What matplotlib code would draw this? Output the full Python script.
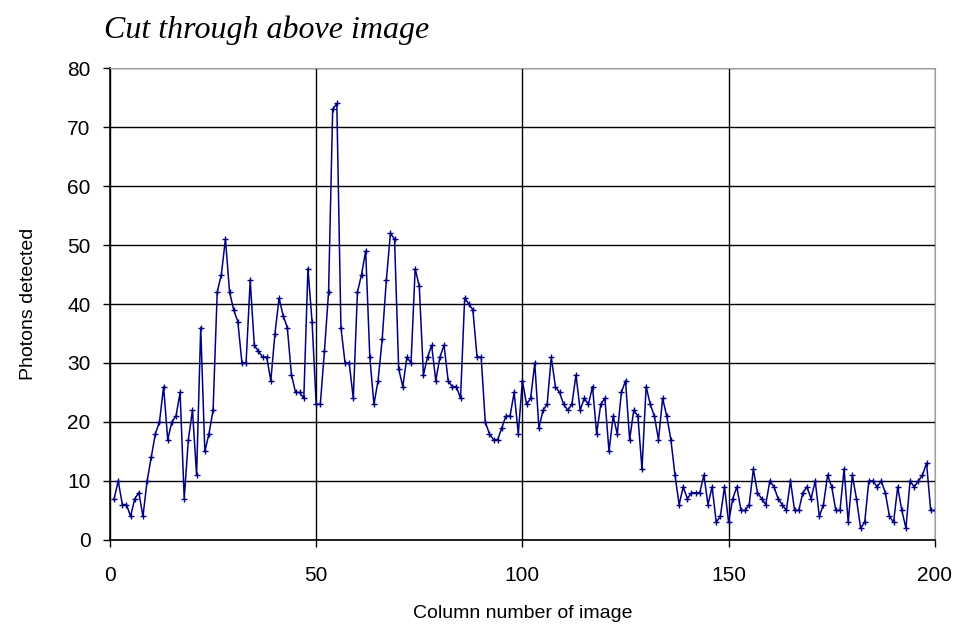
import numpy as np
import matplotlib
matplotlib.use("Agg")
import matplotlib.pyplot as plt

photons = [
    7, 10, 6, 6, 4, 7, 8, 4, 10, 14,
    18, 20, 26, 17, 20, 21, 25, 7, 17, 22,
    11, 36, 15, 18, 22, 42, 45, 51, 42, 39,
    37, 30, 30, 44, 33, 32, 31, 31, 27, 35,
    41, 38, 36, 28, 25, 25, 24, 46, 37, 23,
    23, 32, 42, 73, 74, 36, 30, 30, 24, 42,
    45, 49, 31, 23, 27, 34, 44, 52, 51, 29,
    26, 31, 30, 46, 43, 28, 31, 33, 27, 31,
    33, 27, 26, 26, 24, 41, 40, 39, 31, 31,
    20, 18, 17, 17, 19, 21, 21, 25, 18, 27,
    23, 24, 30, 19, 22, 23, 31, 26, 25, 23,
    22, 23, 28, 22, 24, 23, 26, 18, 23, 24,
    15, 21, 18, 25, 27, 17, 22, 21, 12, 26,
    23, 21, 17, 24, 21, 17, 11, 6, 9, 7,
    8, 8, 8, 11, 6, 9, 3, 4, 9, 3,
    7, 9, 5, 5, 6, 12, 8, 7, 6, 10,
    9, 7, 6, 5, 10, 5, 5, 8, 9, 7,
    10, 4, 6, 11, 9, 5, 5, 12, 3, 11,
    7, 2, 3, 10, 10, 9, 10, 8, 4, 3,
    9, 5, 2, 10, 9, 10, 11, 13, 5, 5,
]
columns = np.arange(1, len(photons) + 1)

x_ticks = [0, 50, 100, 150, 200]
y_ticks = [0, 10, 20, 30, 40, 50, 60, 70, 80]

fig = plt.figure(figsize=(9.58, 6.36), dpi=100)
ax = fig.add_axes([0.1148, 0.151, 0.861, 0.742])

ax.plot(columns, photons, color="#000080", linewidth=1.1,
        marker="+", markersize=5, markeredgewidth=1.0)

ax.set_xlim(0, 200)
ax.set_ylim(0, 80)
ax.set_xticks(x_ticks)
ax.set_yticks(y_ticks)
ax.grid(True, color="black", linewidth=1.0)
ax.set_axisbelow(True)

for side in ["top", "right"]:
    ax.spines[side].set_color("#a0a0a0")
    ax.spines[side].set_linewidth(0.8)
for side in ["left", "bottom"]:
    ax.spines[side].set_color("black")
    ax.spines[side].set_linewidth(1.2)

ax.tick_params(direction="out", length=5, width=1, colors="black", labelsize=15)
ax.tick_params(axis="x", pad=14)
ax.tick_params(axis="y", pad=9)
for lab in ax.get_xticklabels() + ax.get_yticklabels():
    lab.set_family("Liberation Sans")

ax.set_xlabel("Column number of image", fontsize=14, family="Liberation Sans", labelpad=14)
ax.set_ylabel("Photons detected", fontsize=14, family="Liberation Sans", labelpad=22)

fig.text(0.109, 0.953, "Cut through above image", fontsize=23, style="italic",
         family="Liberation Serif", va="center", ha="left")

fig.savefig("out.png", dpi=100)
